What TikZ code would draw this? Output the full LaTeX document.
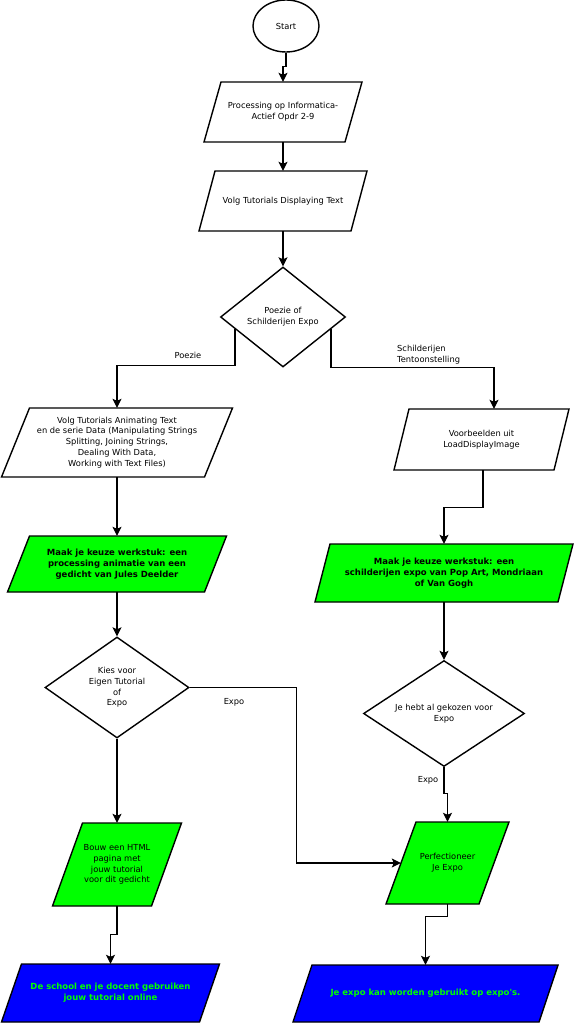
\documentclass[tikz,border=0pt]{standalone}
\usepackage{fontspec}
\setmainfont{DejaVu Sans}
\usetikzlibrary{shapes.geometric,arrows.meta,calc}
\definecolor{pgreen}{RGB}{0,255,0}
\definecolor{pblue}{RGB}{0,0,255}
\tikzset{
  shapeline/.style={draw=black, line width=1.4pt, line join=miter},
  txt/.style={align=center, inner sep=0pt, font=\fontsize{8.3}{10.8}\selectfont},
  btxt/.style={align=center, inner sep=0pt, font=\fontsize{8.5}{10.8}\selectfont\bfseries},
  gtxt/.style={btxt, text=pgreen},
  dia/.style={diamond, shapeline, txt},
  lbl/.style={txt},
  arr/.style={line width=1.1pt, -{Stealth[length=9pt,width=9pt,inset=2pt]}},
}
\newcommand\pgbox[9]{%
  \filldraw[fill=#2, shapeline] ({#4-#6/2+#8},{#5-#7/2}) -- ({#4+#6/2},{#5-#7/2}) -- ({#4+#6/2-#8},{#5+#7/2}) -- ({#4-#6/2},{#5+#7/2}) -- cycle;
  \node[#3, minimum width=#6pt, minimum height=#7pt] (#1) at (#4,#5) {#9};
}
\begin{document}
\begin{tikzpicture}[x=1pt,y=-1pt]
\useasboundingbox[fill=white] (0,0) rectangle (573,1024);

\node[ellipse, shapeline, txt, minimum width=66pt, minimum height=52pt] (start) at (286,26) {Start};

\pgbox{p1}{white}{txt}{283}{112}{158}{60}{17}{Processing op Informatica-\\Actief Opdr 2-9}
\pgbox{p2}{white}{txt}{283}{201}{168}{60}{16}{Volg Tutorials Displaying Text}

\node[dia, shape aspect=1.25, minimum width=125pt, minimum height=100pt] (d1) at (283,317) {Poezie of\\Schilderijen Expo};

\pgbox{p3}{white}{txt}{117}{442.5}{231}{69}{28}{Volg Tutorials Animating Text\\en de serie Data (Manipulating Strings\\Splitting, Joining Strings,\\Dealing With Data,\\Working with Text Files)}
\pgbox{p4}{white}{txt}{481.5}{439.5}{175}{61}{15}{Voorbeelden uit\\LoadDisplayImage}

\pgbox{p5l}{pgreen}{btxt}{117}{564}{219}{56}{22}{Maak je keuze werkstuk: een\\processing animatie van een\\gedicht van Jules Deelder}
\pgbox{p5r}{pgreen}{btxt}{444}{573}{258}{58}{15}{Maak je keuze werkstuk: een\\schilderijen expo van Pop Art, Mondriaan\\of Van Gogh}

\node[dia, shape aspect=1.43, minimum width=144pt, minimum height=101pt] (dl) at (117,687.5) {Kies voor\\Eigen Tutorial\\of\\Expo};
\node[dia, shape aspect=1.52, minimum width=161pt, minimum height=106pt] (dr) at (444,713.5) {Je hebt al gekozen voor\\Expo};

\pgbox{p6l}{pgreen}{txt}{117}{864.5}{129}{83}{30}{Bouw een HTML\\pagina met\\jouw tutorial\\voor dit gedicht}
\pgbox{p7}{pgreen}{txt}{447.5}{863}{123}{82}{30}{Perfectioneer\\Je Expo}

\pgbox{p8l}{pblue}{gtxt}{110.5}{993}{218}{58}{20}{De school en je docent gebruiken\\jouw tutorial online}
\pgbox{p8r}{pblue}{gtxt}{425.5}{993.5}{265}{57}{19}{Je expo kan worden gebruikt op expo\textquotesingle s.}

% labels
\node[lbl] (lpoezie) at (188,355) {Poezie};
\node[lbl, align=left, anchor=west] (lschild) at (397,355) {Schilderijen\\Tentoonstelling};
\node[lbl] (lexpo1) at (234,702) {Expo};
\node[lbl] (lexpo2) at (428,780) {Expo};

% helper coordinates
\coordinate (d1l) at ($(d1.west)!0.24!(d1.south)$);
\coordinate (d1r) at ($(d1.east)!0.24!(d1.south)$);
\coordinate (p4in) at ($(p4.north)+(12.5,0)$);
\coordinate (p4out) at ($(p4.south)+(1.5,0)$);
\coordinate (p7in) at ($(p7.west)+(15,0)$);

% connectors
\draw[arr] (start.south) -- ++(0,14) -| (p1.north);
\draw[arr] (p1.south) -- (p2.north);
\draw[arr] (p2.south) -- (d1.north);
\draw[arr] (d1l) -- ++(0,36) -| (p3.north);
\draw[arr] (d1r) -- ++(0,38) -| (p4in);
\draw[arr] (p3.south) -- (p5l.north);
\draw[arr] (p4out) -- ++(0,37) -| (p5r.north);
\draw[arr] (p5l.south) -- (dl.north);
\draw[arr] (p5r.south) -- (dr.north);
\draw[arr] (dl.east) -- ++(107,0) |- (p7in);
\draw[arr] (dl.south) -- (p6l.north);
\draw[arr] (dr.south) -- ++(0,26) -| (p7.north);
\draw[arr] (p6l.south) -- ++(0,28) -| (p8l.north);
\draw[arr] (p7.south) -- ++(0,12) -| (p8r.north);
\end{tikzpicture}
\end{document}
